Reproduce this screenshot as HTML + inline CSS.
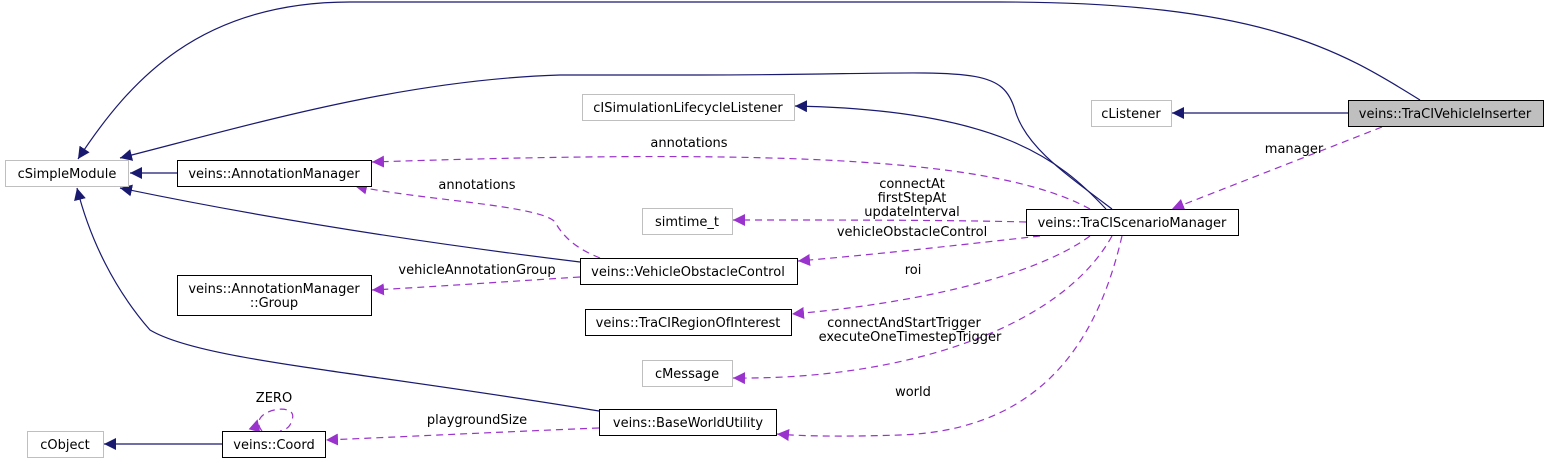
<!DOCTYPE html>
<html><head><meta charset="utf-8"><style>
html,body{margin:0;padding:0;background:#fff;}
svg{display:block;font-family:"DejaVu Sans","Liberation Sans",sans-serif;font-size:13px;}
</style></head><body>
<svg width="1548" height="463" viewBox="0 0 1548 463" xmlns="http://www.w3.org/2000/svg">
<defs>
<marker id="n" viewBox="0 0 10 10" refX="10" refY="5" markerWidth="12" markerHeight="12" markerUnits="userSpaceOnUse" orient="auto"><path d="M0,0L10,5L0,10z" fill="#191970"/></marker>
<marker id="p" viewBox="0 0 10 10" refX="10" refY="5" markerWidth="12" markerHeight="12" markerUnits="userSpaceOnUse" orient="auto"><path d="M0,0L10,5L0,10z" fill="#9a32cd"/></marker>
</defs>
<g fill="none" stroke="#191970" stroke-width="1.2">
<path d="M1420,100 C1340,50 1260,2 1000,2 L350,2 C200,2 130,80 78,159" marker-end="url(#n)"/>
<path d="M1348,113 L1172,113" marker-end="url(#n)"/>
<path d="M1112,209 C1060,170 1025,145 1015,110 C1000,60 960,75 700,75 L560,75 C400,80 250,125 120,158" marker-end="url(#n)"/>
<path d="M1106,209 C1060,160 1000,110 795,106" marker-end="url(#n)"/>
<path d="M177,173 L130,173" marker-end="url(#n)"/>
<path d="M580,262 C400,240 250,215 120,188" marker-end="url(#n)"/>
<path d="M599,411 C350,370 200,360 150,330 C115,290 90,240 77,188" marker-end="url(#n)"/>
<path d="M222,444 L104,444" marker-end="url(#n)"/>
</g>
<g fill="none" stroke="#9a32cd" stroke-width="1.2" stroke-dasharray="7,5">
<path d="M1382,127 L1172,209" marker-end="url(#p)"/>
<path d="M1090,209 C1000,160 800,148 372,162" marker-end="url(#p)"/>
<path d="M1026,222 C950,220 850,220 733,220" marker-end="url(#p)"/>
<path d="M1040,236 C960,245 870,255 798,261" marker-end="url(#p)"/>
<path d="M1090,236 C1030,280 900,305 792,314" marker-end="url(#p)"/>
<path d="M1112,236 C1060,330 900,380 733,378" marker-end="url(#p)"/>
<path d="M1122,236 C1100,330 1050,430 900,435 C840,437 800,436 777,434" marker-end="url(#p)"/>
<path d="M600,258 C580,250 565,240 555,222 C540,205 420,200 355,186" marker-end="url(#p)"/>
<path d="M580,277 C500,282 430,287 372,290" marker-end="url(#p)"/>
<path d="M599,428 C500,432 420,436 326,440" marker-end="url(#p)"/>
<path d="M262,431 C245,410 300,400 292,420 C290,428 285,430 280,431" />
</g>
<path d="M256,419 L262,431 L250,431z" fill="#9a32cd" transform="rotate(15 256 425)"/>
<g stroke-width="1" fill="#fff">
<rect x="5.5" y="160.5" width="123" height="26" stroke="#bfbfbf"/>
<rect x="177.5" y="160.5" width="194" height="26" stroke="#000"/>
<rect x="177.5" y="275.5" width="194" height="40" stroke="#000"/>
<rect x="582.5" y="94.5" width="212" height="26" stroke="#bfbfbf"/>
<rect x="642.5" y="208.5" width="90" height="26" stroke="#bfbfbf"/>
<rect x="580.5" y="258.5" width="217" height="26" stroke="#000"/>
<rect x="585.5" y="309.5" width="206" height="26" stroke="#000"/>
<rect x="642.5" y="360.5" width="90" height="26" stroke="#bfbfbf"/>
<rect x="599.5" y="409.5" width="177" height="26" stroke="#000"/>
<rect x="27.5" y="431.5" width="76" height="26" stroke="#bfbfbf"/>
<rect x="222.5" y="431.5" width="103" height="26" stroke="#000"/>
<rect x="1026.5" y="209.5" width="212" height="26" stroke="#000"/>
<rect x="1091.5" y="100.5" width="80" height="26" stroke="#bfbfbf"/>
<rect x="1348.5" y="100.5" width="195" height="26" stroke="#000" fill="#bfbfbf"/>
</g>
<g fill="#000" text-anchor="middle">
<text x="67" y="178">cSimpleModule</text>
<text x="274" y="178">veins::AnnotationManager</text>
<text x="274" y="293">veins::AnnotationManager</text>
<text x="274" y="307">::Group</text>
<text x="688" y="112">cISimulationLifecycleListener</text>
<text x="687" y="226">simtime_t</text>
<text x="688" y="276">veins::VehicleObstacleControl</text>
<text x="688" y="327">veins::TraCIRegionOfInterest</text>
<text x="687" y="378">cMessage</text>
<text x="688" y="427">veins::BaseWorldUtility</text>
<text x="65" y="449">cObject</text>
<text x="274" y="449">veins::Coord</text>
<text x="1132" y="227">veins::TraCIScenarioManager</text>
<text x="1131" y="118">cListener</text>
<text x="1445" y="118">veins::TraCIVehicleInserter</text>
<text x="1294" y="153">manager</text>
<text x="689" y="147">annotations</text>
<text x="912" y="188">connectAt</text>
<text x="912" y="202">firstStepAt</text>
<text x="912" y="216">updateInterval</text>
<text x="912" y="236">vehicleObstacleControl</text>
<text x="913" y="274">roi</text>
<text x="904" y="327">connectAndStartTrigger</text>
<text x="910" y="341">executeOneTimestepTrigger</text>
<text x="913" y="396">world</text>
<text x="477" y="189">annotations</text>
<text x="477" y="274">vehicleAnnotationGroup</text>
<text x="477" y="424">playgroundSize</text>
<text x="274" y="402">ZERO</text>
</g>
</svg>
</body></html>
